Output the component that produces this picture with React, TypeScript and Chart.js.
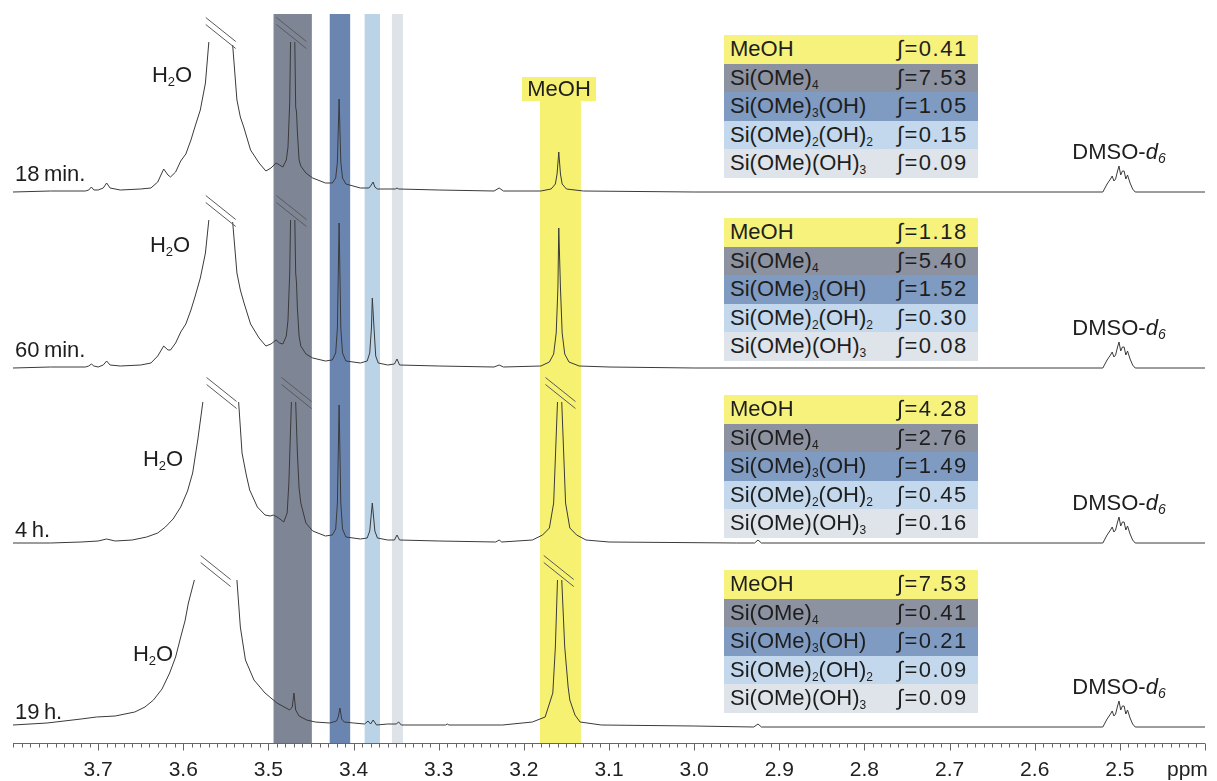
import React, { useEffect, useRef } from 'react';
import { Chart, registerables } from 'chart.js';

Chart.register(...registerables);

type Pt = [number, number | null];

// ---------- data ----------
const tickValues = [3.7, 3.6, 3.5, 3.4, 3.3, 3.2, 3.1, 3.0, 2.9, 2.8, 2.7, 2.6, 2.5];
const spectrumNames = ['18\u2009min.', '60\u2009min.', '4\u2009h.', '19\u2009h.'];
const baselineOffsets = [551, 375, 200, 16];
const clipHeights = [150, 148, 141, 147];

const dmsoMultiplet: Pt[] = [
  [2.520, 0], [2.515, 8], [2.511, 13], [2.509, 16], [2.507, 11], [2.505, 13], [2.503, 20], [2.501, 26],
  [2.499, 17], [2.497, 21], [2.495, 21], [2.493, 13], [2.491, 17], [2.488, 9], [2.485, 3], [2.482, 0], [2.400, 0],
];

const trace18min: Pt[] = [
  [3.800, 0], [3.756, 1], [3.715, 1], [3.711, 2], [3.708, 5], [3.705, 2], [3.700, 2], [3.694, 4], [3.690, 9], [3.686, 4],
  [3.674, 2], [3.650, 3], [3.638, 4], [3.630, 10], [3.623, 23], [3.618, 17], [3.615, 15], [3.609, 20], [3.603, 31],
  [3.597, 38], [3.591, 52], [3.586, 66], [3.580, 82], [3.574, 109], [3.570, 150], [3.556, null],
  [3.542, 147], [3.537, 92], [3.533, 75], [3.529, 65], [3.521, 42], [3.511, 29], [3.503, 21], [3.497, 24], [3.491, 29],
  [3.487, 27], [3.483, 25], [3.479, 32], [3.477, 45], [3.475, 90], [3.474, 150], [3.4715, null],
  [3.469, 150], [3.468, 85], [3.467, 80], [3.466, 60], [3.464, 32], [3.462, 26], [3.456, 19], [3.448, 14], [3.433, 9],
  [3.425, 9], [3.421, 14], [3.419, 30], [3.417, 93], [3.415, 30], [3.413, 14], [3.409, 8], [3.392, 4], [3.382, 4],
  [3.380, 6], [3.377, 10], [3.375, 5], [3.372, 3], [3.351, 3], [3.349, 4], [3.347, 3], [3.300, 2], [3.235, 1],
  [3.229, 4], [3.224, 1], [3.180, 1], [3.168, 3], [3.163, 8], [3.161, 18], [3.159, 40], [3.157, 18], [3.155, 8],
  [3.150, 3], [3.130, 1], [3.000, 0],
  ...dmsoMultiplet,
];

const trace60min: Pt[] = [
  [3.800, 0], [3.756, 1], [3.715, 1], [3.711, 2], [3.708, 4], [3.705, 2], [3.700, 1], [3.694, 3], [3.690, 7], [3.686, 3],
  [3.674, 2], [3.650, 3], [3.638, 5], [3.630, 12], [3.623, 22], [3.618, 18], [3.615, 18], [3.609, 25], [3.603, 36],
  [3.597, 44], [3.591, 58], [3.586, 72], [3.580, 90], [3.574, 115], [3.570, 148], [3.556, null],
  [3.542, 146], [3.537, 95], [3.533, 78], [3.529, 66], [3.521, 44], [3.511, 30], [3.503, 22], [3.497, 24], [3.491, 28],
  [3.487, 25], [3.483, 24], [3.479, 32], [3.477, 48], [3.475, 95], [3.474, 148], [3.4715, null],
  [3.469, 148], [3.468, 95], [3.467, 85], [3.466, 60], [3.464, 32], [3.462, 22], [3.456, 14], [3.448, 10], [3.433, 7],
  [3.425, 8], [3.421, 15], [3.419, 40], [3.417, 145], [3.415, 40], [3.413, 15], [3.409, 7], [3.392, 5], [3.384, 7],
  [3.381, 15], [3.379, 40], [3.378, 70], [3.376, 40], [3.374, 12], [3.371, 5], [3.360, 3], [3.352, 4], [3.349, 9],
  [3.346, 3], [3.300, 2], [3.235, 1], [3.229, 3], [3.224, 1], [3.180, 2], [3.170, 6], [3.165, 14], [3.162, 35],
  [3.160, 80], [3.159, 140], [3.157, 80], [3.155, 35], [3.152, 14], [3.147, 6], [3.135, 2], [3.100, 1], [3.000, 0],
  ...dmsoMultiplet,
];

const trace4h: Pt[] = [
  [3.800, 0], [3.756, 0], [3.720, 1], [3.700, 2], [3.690, 4], [3.680, 2], [3.660, 3], [3.643, 6], [3.630, 10],
  [3.621, 16], [3.612, 24], [3.603, 36], [3.595, 52], [3.589, 70], [3.583, 103], [3.577, 141], [3.555, null],
  [3.535, 141], [3.531, 90], [3.526, 68], [3.522, 53], [3.513, 36], [3.504, 28], [3.498, 27], [3.494, 28], [3.488, 25],
  [3.482, 21], [3.478, 30], [3.476, 60], [3.473, 141], [3.4705, null],
  [3.468, 141], [3.466, 90], [3.464, 55], [3.462, 40], [3.456, 20], [3.448, 12], [3.433, 7], [3.425, 8], [3.421, 14],
  [3.419, 40], [3.417, 138], [3.415, 40], [3.413, 14], [3.409, 6], [3.392, 4], [3.384, 5], [3.381, 12], [3.378, 40],
  [3.375, 12], [3.372, 5], [3.360, 3], [3.352, 3], [3.349, 8], [3.346, 3], [3.300, 2], [3.233, 1], [3.229, 3],
  [3.226, 1], [3.190, 3], [3.178, 8], [3.170, 15], [3.165, 40], [3.1605, 141], [3.158, null],
  [3.1555, 141], [3.151, 40], [3.146, 15], [3.138, 8], [3.127, 3], [3.100, 1], [2.950, 0], [2.929, 0], [2.925, 3],
  [2.921, 0],
  ...dmsoMultiplet,
];

const trace19h: Pt[] = [
  [3.800, 2], [3.760, 4], [3.720, 8], [3.702, 10], [3.680, 11], [3.657, 15], [3.645, 20], [3.635, 27], [3.625, 38],
  [3.616, 54], [3.609, 70], [3.603, 90], [3.598, 106], [3.594, 124], [3.587, 147], [3.562, null],
  [3.537, 147], [3.533, 100], [3.527, 67], [3.517, 47], [3.504, 34], [3.490, 24], [3.475, 17], [3.472, 20], [3.470, 34],
  [3.468, 17], [3.464, 11], [3.455, 7], [3.445, 5], [3.428, 4], [3.420, 6], [3.418, 10], [3.416, 19], [3.414, 8],
  [3.411, 5], [3.400, 4], [3.387, 3], [3.383, 6], [3.380, 3], [3.377, 7], [3.373, 2], [3.360, 3], [3.350, 3],
  [3.347, 5], [3.344, 2], [3.292, 2], [3.290, 3], [3.288, 2], [3.227, 2], [3.225, 2], [3.190, 5], [3.175, 10],
  [3.166, 34], [3.163, 80], [3.1605, 147], [3.159, null],
  [3.1555, 147], [3.152, 80], [3.148, 40], [3.146, 27], [3.140, 12], [3.134, 5], [3.109, 2], [3.000, 1], [2.930, 0],
  [2.925, 3], [2.921, 0],
  ...dmsoMultiplet,
];

const traces = [trace18min, trace60min, trace4h, trace19h];

// ppm centres of the "//" break marks above truncated peaks
const breaks18min = [3.556, 3.473];
const breaks60min = [3.556, 3.473];
const breaks4h = [3.555, 3.467, 3.157];
const breaks19h = [3.562, 3.159];
const breakSets = [breaks18min, breaks60min, breaks4h, breaks19h];

// highlighted regions (ppm)
const bandFrom = [3.494, 3.428, 3.387, 3.355, 3.181];
const bandTo = [3.449, 3.404, 3.369, 3.342, 3.133];

const speciesKeys = ['MeOH', 'SiOMe4', 'SiOMe3OH', 'SiOMe2OH2', 'SiOMeOH3'];
const integrals18min = [0.41, 7.53, 1.05, 0.15, 0.09];
const integrals60min = [1.18, 5.40, 1.52, 0.30, 0.08];
const integrals4h = [4.28, 2.76, 1.49, 0.45, 0.16];
const integrals19h = [7.53, 0.41, 0.21, 0.09, 0.09];
const integralSets = [integrals18min, integrals60min, integrals4h, integrals19h];

// ---------- styles ----------
const FONT = '"Liberation Sans", Arial, Helvetica, sans-serif';
const bandColors = ['rgb(126,133,148)', 'rgb(106,134,176)', 'rgb(186,211,231)', 'rgb(221,227,233)', 'rgb(246,241,112)'];
const bandTopPx = [14, 14, 14, 14, 101];
const rowColors = ['rgb(246,242,124)', 'rgb(140,146,160)', 'rgb(128,155,194)', 'rgb(195,216,236)', 'rgb(222,228,234)'];
const tableTops = [35, 218, 395, 570];
const nameY = [174, 350, 530, 712];
const waterPos = [[172, 75], [170, 245], [163, 459], [153, 654]];
const dmsoY = [152, 328, 503, 687];

const Y_MAX = 743;
const AXIS_LABEL_Y = 770;

const bandsPlugin = {
  id: 'bands',
  beforeDatasetsDraw(chart: any) {
    const { ctx, chartArea, scales } = chart;
    const x = scales.x;
    ctx.save();
    bandFrom.forEach((f, i) => {
      const x1 = x.getPixelForValue(f);
      const x2 = x.getPixelForValue(bandTo[i]);
      const top = bandTopPx[i];
      ctx.fillStyle = bandColors[i];
      ctx.fillRect(Math.min(x1, x2), top, Math.abs(x2 - x1), chartArea.bottom - top);
    });
    ctx.restore();
  },
};

const decorPlugin = {
  id: 'decor',
  afterDatasetsDraw(chart: any) {
    const { ctx, chartArea, scales } = chart;
    const x = scales.x;
    const y = scales.y;
    ctx.save();
    // break marks
    ctx.strokeStyle = '#5a5a5a';
    ctx.lineWidth = 1;
    breakSets.forEach((set, i) => {
      set.forEach((ppm) => {
        const cx = x.getPixelForValue(ppm);
        const cy = y.getPixelForValue(baselineOffsets[i] + clipHeights[i]) - 9;
        [-3.5, 3.5].forEach((d) => {
          ctx.beginPath();
          ctx.moveTo(cx - 15, cy - 12 + d);
          ctx.lineTo(cx + 15, cy + 12 + d);
          ctx.stroke();
        });
      });
    });
    // x axis: line, minor + major ticks, labels
    const b = Math.round(chartArea.bottom) + 0.5;
    ctx.strokeStyle = '#666';
    ctx.beginPath();
    ctx.moveTo(chartArea.left, b);
    ctx.lineTo(chartArea.right, b);
    ctx.stroke();
    for (let i = 240; i <= 380; i++) {
      const px = Math.round(x.getPixelForValue(i / 100)) + 0.5;
      const major = i % 10 === 0 && i < 380;
      ctx.beginPath();
      ctx.moveTo(px, b);
      ctx.lineTo(px, b + (major ? 7 : 4));
      ctx.stroke();
    }
    ctx.fillStyle = '#222';
    ctx.font = `21px ${FONT}`;
    ctx.textAlign = 'center';
    ctx.textBaseline = 'middle';
    tickValues.forEach((v) => {
      ctx.fillText(v.toFixed(1), x.getPixelForValue(v), AXIS_LABEL_Y);
    });
    ctx.textAlign = 'left';
    ctx.fillText('ppm', 1167, AXIS_LABEL_Y);
    ctx.restore();
  },
};

function Species({ k }: { k: string }) {
  const sub = (t: string) => (
    <sub style={{ fontSize: 12, verticalAlign: -4, lineHeight: 0 }}>{t}</sub>
  );
  switch (k) {
    case 'MeOH':
      return <>MeOH</>;
    case 'SiOMe4':
      return <>Si(OMe){sub('4')}</>;
    case 'SiOMe3OH':
      return <>Si(OMe){sub('3')}(OH)</>;
    case 'SiOMe2OH2':
      return <>Si(OMe){sub('2')}(OH){sub('2')}</>;
    default:
      return <>Si(OMe)(OH){sub('3')}</>;
  }
}

export default function App() {
  const ref = useRef<HTMLCanvasElement | null>(null);

  useEffect(() => {
    if (!ref.current) return;
    const datasets = traces.map((tr, i) => ({
      label: spectrumNames[i],
      data: tr.map((p) => ({ x: p[0], y: p[1] === null ? null : (p[1] as number) + baselineOffsets[i] })),
      borderColor: '#3a3a3a',
      borderWidth: 1,
      pointRadius: 0,
      tension: 0,
      spanGaps: false,
      fill: false,
    }));
    const chart = new Chart(ref.current, {
      type: 'line',
      data: { datasets },
      options: {
        animation: false,
        responsive: false,
        devicePixelRatio: 1,
        layout: { padding: { left: 13, right: 12, top: 0, bottom: 781 - Y_MAX } },
        plugins: { legend: { display: false }, tooltip: { enabled: false } },
        scales: {
          x: { type: 'linear', reverse: true, min: 2.4, max: 3.8, display: false },
          y: { display: false, min: 0, max: Y_MAX },
        },
      },
      plugins: [bandsPlugin, decorPlugin],
    } as any);
    return () => chart.destroy();
  }, []);

  const txt: React.CSSProperties = { position: 'absolute', fontFamily: FONT, fontSize: 22, color: '#1e1e1e', whiteSpace: 'nowrap', lineHeight: 1 };

  return (
    <div style={{ position: 'fixed', left: 0, top: 0, width: 1217, height: 781, background: '#fff', overflow: 'hidden' }}>
      <canvas ref={ref} width={1217} height={781} style={{ position: 'absolute', left: 0, top: 0, width: 1217, height: 781 }} />
      {/* MeOH label over yellow band */}
      <div style={{ ...txt, left: 522, top: 77, width: 74, height: 24, background: bandColors[4], display: 'flex', alignItems: 'center', justifyContent: 'center' }}>MeOH</div>
      {spectrumNames.map((n, i) => (
        <div key={'n' + i} style={{ ...txt, left: 15, top: nameY[i], transform: 'translateY(-50%)' }}>{n}</div>
      ))}
      {waterPos.map((p, i) => (
        <div key={'w' + i} style={{ ...txt, left: p[0], top: p[1], transform: 'translate(-50%,-50%)' }}>
          H<sub style={{ fontSize: 13, verticalAlign: -4, lineHeight: 0 }}>2</sub>O
        </div>
      ))}
      {dmsoY.map((yy, i) => (
        <div key={'d' + i} style={{ ...txt, left: 1119, top: yy, transform: 'translate(-50%,-50%)' }}>
          DMSO-<i>d</i><sub style={{ fontSize: 14, verticalAlign: -4, lineHeight: 0, fontStyle: 'italic' }}>6</sub>
        </div>
      ))}
      {integralSets.map((vals, t) => (
        <div key={'t' + t} style={{ position: 'absolute', left: 724, top: tableTops[t], width: 254 }}>
          {vals.map((v, r) => (
            <div key={r} style={{ position: 'relative', height: 28.5, background: rowColors[r] }}>
              <div style={{ ...txt, left: 6, top: 14.25, transform: 'translateY(-50%)' }}>
                <Species k={speciesKeys[r]} />
              </div>
              <div style={{ ...txt, left: 173, top: 14.25, transform: 'translateY(-50%)', letterSpacing: 1.5 }}>{`\u222B=${v.toFixed(2)}`}</div>
            </div>
          ))}
        </div>
      ))}
    </div>
  );
}
